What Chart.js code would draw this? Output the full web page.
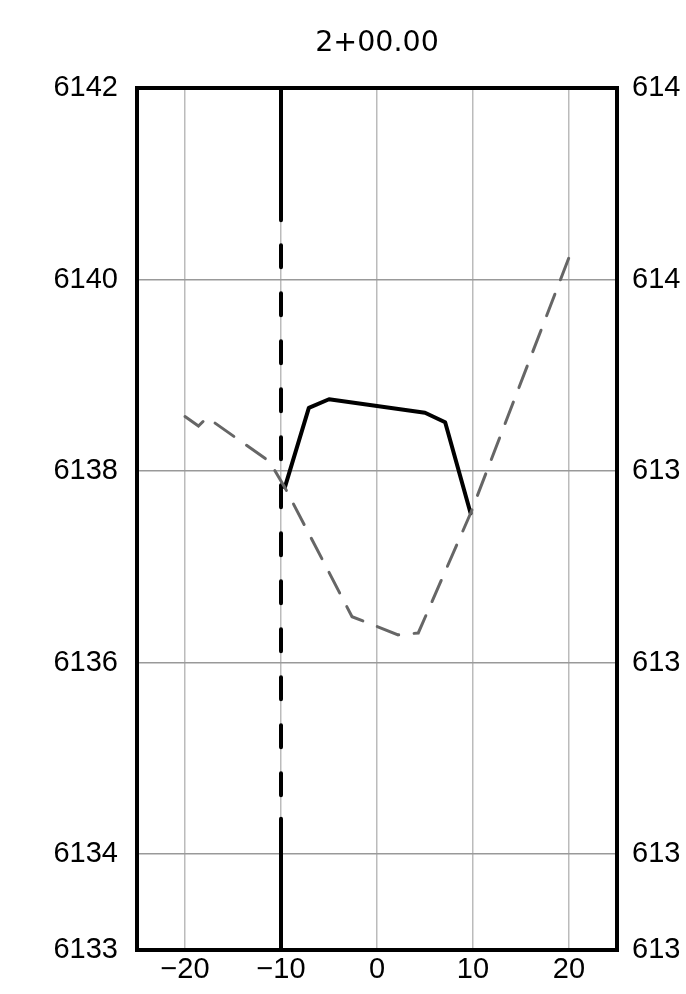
<!DOCTYPE html>
<html>
<head>
<meta charset="utf-8">
<script src="https://cdn.jsdelivr.net/npm/chart.js@4/dist/chart.umd.min.js"></script>
<style>
html,body{margin:0;padding:0;background:#fff;}
canvas{display:block;}
</style>
</head>
<body>
<canvas id="c" width="686" height="994"></canvas>
<script>
// ---- data ----
const titleText = '2+00.00';
const xTickValues = [-20, -10, 0, 10, 20];
const xTickLabels = ['\u221220', '\u221210', '0', '10', '20'];
const yTickValues = [6133, 6134, 6136, 6138, 6140, 6142];
const yTickLabels = ['6133', '6134', '6136', '6138', '6140', '6142'];
// right-hand labels as they appear (cut at the page edge)
const yRightTickLabels = ['613', '613', '613', '613', '614', '614'];

const groundX = [-20, -18.6, -17.7, -11.2, -9.6, -2.6, 2.2, 4.3, 9.75, 20];
const groundY = [6138.57, 6138.47, 6138.56, 6138.1, 6137.83, 6136.48, 6136.29, 6136.31, 6137.56, 6140.23];

const designX = [-9.6, -7.1, -5, 5, 7.1, 9.75];
const designY = [6137.83, 6138.66, 6138.75, 6138.61, 6138.51, 6137.56];

const centerX = -10;
const centerBreaksY = [6142, 6140.62, 6134.37, 6133];

const toPts = (xs, ys) => xs.map((x, i) => ({x: x, y: ys[i]}));
const centerPts = (a, b) => [{x: centerX, y: centerBreaksY[a]}, {x: centerX, y: centerBreaksY[b]}];

const tickFont = {family: 'Liberation Sans', size: 29};

const framePlugin = {
  id: 'frame',
  afterDraw(chart) {
    const {ctx, chartArea: a} = chart;
    ctx.save();
    ctx.strokeStyle = '#000';
    ctx.lineWidth = 4;
    ctx.lineJoin = 'miter';
    ctx.strokeRect(a.left, a.top, a.right - a.left, a.bottom - a.top);
    ctx.restore();
  }
};

new Chart(document.getElementById('c'), {
  type: 'line',
  data: {
    datasets: [
      {
        data: toPts(groundX, groundY),
        borderColor: '#666666', borderWidth: 3,
        borderDash: [23, 15.5], borderCapStyle: 'round',
        pointRadius: 0, tension: 0
      },
      {
        data: toPts(designX, designY),
        borderColor: '#000', borderWidth: 4,
        borderJoinStyle: 'round', borderCapStyle: 'round',
        pointRadius: 0, tension: 0
      },
      {
        data: centerPts(0, 1),
        borderColor: '#000', borderWidth: 4, borderCapStyle: 'round',
        pointRadius: 0
      },
      {
        data: centerPts(1, 2),
        borderColor: '#000', borderWidth: 4, borderCapStyle: 'round',
        borderDash: [22, 26], borderDashOffset: 23,
        pointRadius: 0
      },
      {
        data: centerPts(2, 3),
        borderColor: '#000', borderWidth: 4, borderCapStyle: 'round',
        pointRadius: 0
      }
    ]
  },
  options: {
    responsive: false,
    animation: false,
    devicePixelRatio: 1,
    layout: {padding: 0},
    plugins: {
      legend: {display: false},
      tooltip: {enabled: false},
      title: {
        display: true, text: titleText, color: '#000', fullSize: false,
        font: {family: 'DejaVu Sans', size: 28.5, weight: 'normal'},
        padding: {top: 26.6, bottom: 27.2}
      }
    },
    scales: {
      x: {
        type: 'linear', min: -25, max: 25,
        afterBuildTicks: (ax) => { ax.ticks = xTickValues.map(v => ({value: v})); },
        afterFit: (ax) => { ax.height = 44; },
        ticks: {
          color: '#000', font: tickFont, padding: 3, maxRotation: 0, autoSkip: false,
          callback: (v) => xTickLabels[xTickValues.indexOf(v)]
        },
        grid: {color: '#bbbbbb', lineWidth: 1.5, drawTicks: false},
        border: {display: false}
      },
      y: {
        type: 'linear', position: 'left', min: 6133, max: 6142,
        afterBuildTicks: (ax) => { ax.ticks = yTickValues.map(v => ({value: v})); },
        afterFit: (ax) => { ax.width = 137; },
        ticks: {
          color: '#000', font: tickFont, padding: 19, autoSkip: false,
          callback: (v) => yTickLabels[yTickValues.indexOf(v)]
        },
        grid: {color: '#999999', lineWidth: 1.5, drawTicks: false},
        border: {display: false}
      },
      y2: {
        type: 'linear', position: 'right', min: 6133, max: 6142,
        afterBuildTicks: (ax) => { ax.ticks = yTickValues.map(v => ({value: v})); },
        afterFit: (ax) => { ax.width = 69; },
        ticks: {
          color: '#000', font: tickFont, padding: 15, autoSkip: false,
          callback: (v) => yRightTickLabels[yTickValues.indexOf(v)]
        },
        grid: {display: false, drawTicks: false},
        border: {display: false}
      }
    }
  },
  plugins: [framePlugin]
});
</script>
</body>
</html>
